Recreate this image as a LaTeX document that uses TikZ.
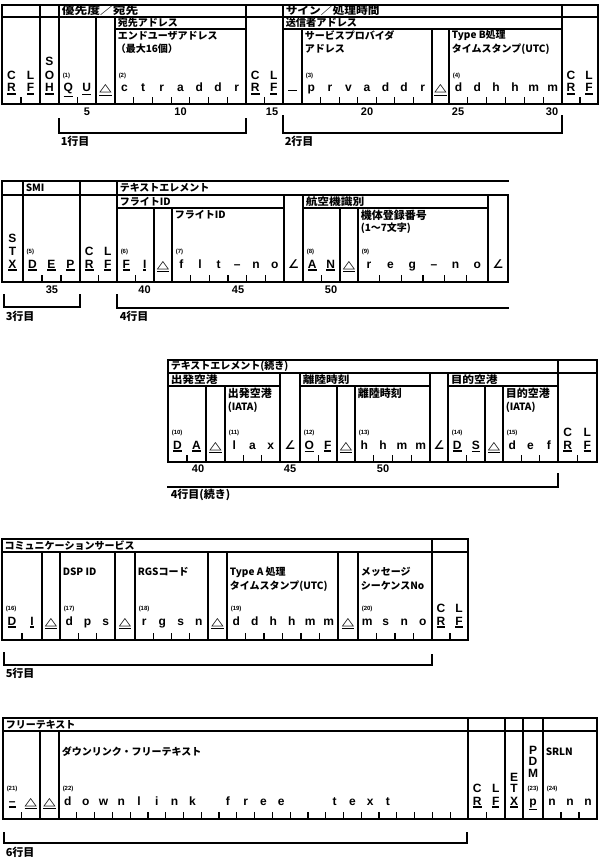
\documentclass[tikz,border=0pt]{standalone}
\usepackage{fontspec}
\usepackage{graphicx}
\setmainfont{Liberation Sans}
\newfontfamily\jp{Noto Sans CJK JP}
\newfontfamily\dv{DejaVu Sans}
\newcommand\ul[1]{\setbox0\hbox{#1}\rlap{\rule[\dimexpr-\dp0-2.6pt\relax]{\wd0}{1.2pt}}\box0}
\newcommand\tri{{\fontsize{11}{11}\selectfont\scalebox{1.45}[1]{\dv\bfseries △}}}
\newcommand\ang{{\fontsize{12}{12}\selectfont\dv ∠}}
\newcommand\wide[1]{\scalebox{1.15}[1]{#1}}
\tikzset{
  ch/.style={font=\bfseries\fontsize{12}{12}\selectfont, inner sep=0pt, anchor=base},
  lb/.style={font=\bfseries\fontsize{6}{6}\selectfont, inner sep=0pt, anchor=base west},
  hd/.style={font=\jp\bfseries\fontsize{10}{10}\selectfont, inner sep=0pt, anchor=west},
  hdk/.style={font=\jp\bfseries\fontsize{11}{11}\selectfont, inner sep=0pt, anchor=west},
  hdr/.style={font=\jp\bfseries\fontsize{10.2}{10}\selectfont, inner sep=0pt, anchor=west},
  num/.style={font=\bfseries\fontsize{11}{11}\selectfont, inner sep=0pt},
  rowlab/.style={font=\jp\bfseries\fontsize{11}{11}\selectfont, inner sep=0pt, anchor=west},
  tk/.style={line width=1.2pt}
}
% field: x1, x2, n cells, list of chars
\newcommand\fld[4]{%
  \pgfmathsetmacro\fw{(#2-#1)/#3}%
  \foreach \q [count=\i] in {#4} {\node[ch] at ({#1+(\i-0.5)*\fw},\yL) {\q};}%
  \ifnum#3>1\relax
    \pgfmathtruncatemacro\fm{#3-1}%
    \foreach \i in {1,...,\fm} {\draw[tk] ({#1+\i*\fw},\yB) -- ++(0,-6);}%
  \fi}
\newcommand\crlf[2]{%
  \pgfmathsetmacro\cw{(#2-#1)/4}%
  \node[ch] at ({#1+\cw},\yL-13) {C};
  \node[ch] at ({#1+3*\cw},\yL-13) {L};
  \fld{#1}{#2}{2}{\ul{R},\ul{F}}}
\newcommand\stk[4]{%
  \node[ch] at (#1,\yL-26) {#2};
  \node[ch] at (#1,\yL-13) {#3};
  \node[ch] at (#1,\yL) {#4};}
\newcommand\lab[2]{\node[lb] at (#1,\yL-14.5) {#2};}
\begin{document}
\begin{tikzpicture}[x=1pt,y=-1pt,line width=1.5pt,line cap=rect]
\useasboundingbox (0,0) rectangle (600,859);
\fill[white] (0,0) rectangle (600,859);

%%%%%%%%%%%%%%%% Block 1
\def\yB{104}\def\yL{92}
\draw (2,5) -- (598,5) (2,17) -- (598,17) (2,104) -- (598,104);
\draw (115,29) -- (246,29) (283,29) -- (562,29);
\foreach \x in {2,40,59,246,283,562,598} \draw (\x,5) -- (\x,104);
\foreach \x in {96,115} \draw (\x,17) -- (\x,104);
\foreach \x in {302,432,449} \draw (\x,29) -- (\x,104);
\node[hdr] at (61,11) {\scalebox{1.25}[1]{優先度／宛先}};
\node[hd] at (117,23) {宛先アドレス};
\node[hd] at (117,36) {エンドユーザアドレス};
\node[hd] at (115,49) {（最大16個）};
\node[hdr] at (285,11) {\wide{サイン／処理時間}};
\node[hdr] at (285,23) {送信者アドレス};
\node[hd] at (304,36) {サービスプロバイダ};
\node[hd] at (304,49) {アドレス};
\node[hd] at (451,35) {Type B処理};
\node[hd] at (451,49) {タイムスタンプ(UTC)};
\crlf{2}{40}
\stk{49.5}{S}{O}{\ul{H}}
\fld{59}{96}{2}{\ul{Q},\ul{U}} \lab{62}{(1)}
\fld{96}{115}{1}{\ul{\tri}}
\fld{115}{246}{7}{c,t,r,a,d,d,r} \lab{118}{(2)}
\crlf{246}{283}
\draw[line width=1.2pt] (289,90.5) -- (296,90.5);
\fld{302}{432}{7}{p,r,v,a,d,d,r} \lab{305}{(3)}
\fld{432}{449}{1}{\ul{\tri}}
\fld{449}{562}{6}{d,d,h,h,m,m} \lab{452}{(4)}
\crlf{562}{598}
\node[num] at (87,112) {5};
\node[num] at (180.5,112) {10};
\node[num] at (272,112) {15};
\node[num] at (367,112) {20};
\node[num] at (458,112) {25};
\node[num] at (552,112) {30};
\draw (59,119) -- (59,133) -- (246,133) -- (246,119);
\draw (283,116) -- (283,133) -- (562,133) -- (562,116);
\node[rowlab] at (60,141) {1行目};
\node[rowlab] at (284,141) {2行目};

%%%%%%%%%%%%%%%% Block 2
\def\yB{282}\def\yL{268}
\draw (2,181) -- (508,181) (2,195) -- (508,195) (2,282) -- (508,282);
\draw (117,208) -- (284,208) (303,208) -- (488,208);
\foreach \x in {2,23,80,117} \draw (\x,181) -- (\x,282);
\foreach \x in {284,303,488,508} \draw (\x,195) -- (\x,282);
\foreach \x in {154,172,340,358} \draw (\x,208) -- (\x,282);
\node[hd] at (25,188) {SMI};
\node[hd] at (119,188) {テキストエレメント};
\node[hd] at (119,201.5) {フライトID};
\node[hdr] at (305,201.5) {\wide{航空機識別}};
\node[hd] at (174,214.5) {フライトID};
\node[hdk] at (360,215) {機体登録番号};
\node[hd] at (360,228) {(1～7文字)};
\stk{12.5}{S}{T}{\ul{X}}
\fld{23}{80}{3}{\ul{D},\ul{E},\ul{P}} \lab{26}{(5)}
\crlf{80}{117}
\fld{117}{154}{2}{\ul{F},\ul{I}} \lab{120}{(6)}
\fld{154}{172}{1}{\ul{\tri}}
\fld{172}{284}{6}{f,l,t,–,n,o} \lab{175}{(7)}
\fld{284}{303}{1}{\ang}
\fld{303}{340}{2}{\ul{A},\ul{N}} \lab{306}{(8)}
\fld{340}{358}{1}{\ul{\tri}}
\fld{358}{488}{6}{r,e,g,–,n,o} \lab{361}{(9)}
\fld{488}{508}{1}{\ang}
\node[num] at (52,290) {35};
\node[num] at (144.5,290) {40};
\node[num] at (238,290) {45};
\node[num] at (331,290) {50};
\draw (4,295) -- (4,307) -- (80,307) -- (80,295);
\draw (117,295) -- (117,308) -- (508,308);
\node[rowlab] at (5,316) {3行目};
\node[rowlab] at (119,316) {4行目};

%%%%%%%%%%%%%%%% Block 3
\def\yB{462}\def\yL{449}
\draw (168,360) -- (597,360) (168,373) -- (597,373) (168,462) -- (597,462);
\draw (168,386) -- (280,386) (300,386) -- (430,386) (448,386) -- (558,386);
\foreach \x in {168,558,597} \draw (\x,360) -- (\x,462);
\foreach \x in {280,300,430,448} \draw (\x,373) -- (\x,462);
\foreach \x in {206,225,337,355,485,503} \draw (\x,386) -- (\x,462);
\node[hd] at (170,366.5) {テキストエレメント(続き)};
\node[hdr] at (170,379.5) {\wide{出発空港}};
\node[hdr] at (302,379.5) {\wide{離陸時刻}};
\node[hdr] at (450,379.5) {\wide{目的空港}};
\node[hdk] at (227,393.5) {出発空港};
\node[hd] at (227,407) {(IATA)};
\node[hdk] at (357,393.5) {離陸時刻};
\node[hdk] at (505,393.5) {目的空港};
\node[hd] at (505,407) {(IATA)};
\fld{168}{206}{2}{\ul{D},\ul{A}} \lab{171}{(10)}
\fld{206}{225}{1}{\ul{\tri}}
\fld{225}{280}{3}{l,a,x} \lab{228}{(11)}
\fld{280}{300}{1}{\ang}
\fld{300}{337}{2}{\ul{O},\ul{F}} \lab{303}{(12)}
\fld{337}{355}{1}{\ul{\tri}}
\fld{355}{430}{4}{h,h,m,m} \lab{358}{(13)}
\fld{430}{448}{1}{\ang}
\fld{448}{485}{2}{\ul{D},\ul{S}} \lab{451}{(14)}
\fld{485}{503}{1}{\ul{\tri}}
\fld{503}{558}{3}{d,e,f} \lab{506}{(15)}
\crlf{558}{597}
\node[num] at (198,469) {40};
\node[num] at (290,469) {45};
\node[num] at (383,469) {50};
\draw (168,487) -- (558,487) -- (558,474);
\node[rowlab] at (170,495) {4行目(続き)};

%%%%%%%%%%%%%%%% Block 4
\def\yB{640}\def\yL{625}
\draw (2,539) -- (468,539) (2,552) -- (468,552) (2,640) -- (468,640);
\foreach \x in {2,432,468} \draw (\x,539) -- (\x,640);
\foreach \x in {42,60,115,135,208,227,338,358} \draw (\x,552) -- (\x,640);
\node[hd] at (4,545.5) {コミュニケーションサービス};
\node[hd] at (62,572) {DSP ID};
\node[hd] at (137,572) {RGSコード};
\node[hd] at (229,572) {Type A 処理};
\node[hd] at (229,586) {タイムスタンプ(UTC)};
\node[hd] at (360,572) {メッセージ};
\node[hd] at (360,586) {シーケンスNo};
\fld{2}{42}{2}{\ul{D},\ul{I}} \lab{5}{(16)}
\fld{42}{60}{1}{\ul{\tri}}
\fld{60}{115}{3}{d,p,s} \lab{63}{(17)}
\fld{115}{135}{1}{\ul{\tri}}
\fld{135}{208}{4}{r,g,s,n} \lab{138}{(18)}
\fld{208}{227}{1}{\ul{\tri}}
\fld{227}{338}{6}{d,d,h,h,m,m} \lab{230}{(19)}
\fld{338}{358}{1}{\ul{\tri}}
\fld{358}{432}{4}{m,s,n,o} \lab{361}{(20)}
\crlf{432}{468}
\draw (4,653) -- (4,665) -- (432,665) -- (432,655);
\node[rowlab] at (5,673) {5行目};

%%%%%%%%%%%%%%%% Block 5
\def\yB{819}\def\yL{805}
\draw (3,718) -- (597,718) (3,731) -- (597,731) (3,819) -- (597,819);
\foreach \x in {3,468,505,523,543,597} \draw (\x,718) -- (\x,819);
\foreach \x in {40,59} \draw (\x,731) -- (\x,819);
\node[hd] at (5,724.5) {フリーテキスト};
\node[hd] at (61,752) {ダウンリンク・フリーテキスト};
\node[hd] at (545,752) {SRLN};
\fld{3}{40}{2}{\ul{–},\ul{\tri}} \lab{6}{(21)}
\fld{40}{59}{1}{\ul{\tri}}
\fld{59}{468}{23}{d,o,w,n,l,i,n,k,{},f,r,e,e,{},{},t,e,x,t,{},{},{},{}} \lab{62}{(22)}
\crlf{468}{505}
\node[ch] at (514,\yL-24) {E};
\node[ch] at (514,\yL-13) {T};
\node[ch] at (514,\yL) {\ul{X}};
\node[ch] at (533,\yL-51) {P};
\node[ch] at (533,\yL-39.5) {D};
\node[ch] at (533,\yL-28) {M};
\node[lb, anchor=base] at (533,\yL-14.5) {(23)};
\node[ch] at (533,\yL) {\ul{p}};
\fld{543}{597}{3}{n,n,n} \lab{546}{(24)}
\draw (4,833) -- (4,843) -- (467,843) -- (467,833);
\node[rowlab] at (5,852) {6行目};
\end{tikzpicture}
\end{document}
